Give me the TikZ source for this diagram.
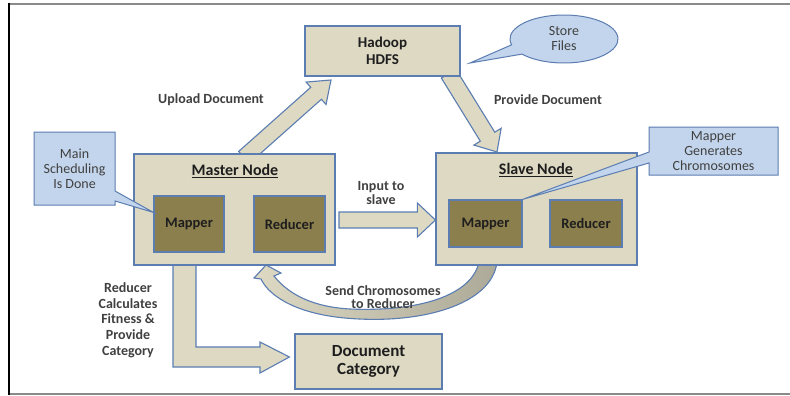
\documentclass[tikz,border=0pt]{standalone}
\usepackage{fontspec}
\setmainfont{Carlito}
\usetikzlibrary{calc}

\definecolor{tanfill}{HTML}{DDD9C3}
\definecolor{edgeblue}{HTML}{5B7DB1}
\definecolor{olivefill}{HTML}{8C7F4E}
\definecolor{notefill}{HTML}{C3D5EC}
\definecolor{ink}{HTML}{1E1E1E}
\definecolor{framegray}{HTML}{8A8A8A}

\pgfdeclarelayer{bg}
\pgfsetlayers{bg,main}

% block arrow from tail #1 to tip #2: shaft half width #3, head half width #4, head length #5
\newcommand\blockarrow[5]{%
  \coordinate (ba-base) at ($(#2)!#5!(#1)$);
  \draw[fat] ($(#1)!#3!90:(#2)$) -- ($(ba-base)!#3!-90:(#1)$) -- ($(ba-base)!#4!-90:(#1)$)
    -- (#2) -- ($(ba-base)!#4!90:(#1)$) -- ($(ba-base)!#3!90:(#1)$) -- ($(#1)!#3!-90:(#2)$) -- cycle;
}

\tikzset{
  box/.style={draw=edgeblue, fill=tanfill, line width=1.2pt, inner sep=0pt},
  unit/.style={draw=edgeblue, fill=olivefill, line width=1.2pt, inner sep=0pt, text=ink,
    font=\fontsize{14.5}{16}\selectfont\bfseries},
  fat/.style={draw=edgeblue, fill=tanfill, line width=1.1pt, line join=miter},
  note/.style={draw=edgeblue, fill=notefill, line width=1pt, line join=miter},
  notetext/.style={align=center, text=ink!85, font=\fontsize{14}{15}\selectfont},
  lbl/.style={align=center, text=ink!85, font=\fontsize{14}{13.5}\selectfont\bfseries},
  title/.style={text=ink, font=\fontsize{16}{18}\selectfont\bfseries},
}

\begin{document}
\begin{tikzpicture}[x=1pt,y=-1pt]
\useasboundingbox (0,0) rectangle (790,396);

% frame
\draw[framegray, line width=1.4pt] (9,4) -- (790,4);
\draw[framegray, line width=1.4pt] (9,394) -- (790,394);
\draw[black, line width=2.6pt] (9,3) -- (9,395);

% main boxes
\node[box, minimum width=155pt, minimum height=50pt, align=center, text=ink,
  font=\fontsize{15}{17}\selectfont\bfseries] (hdfs) at (382.5,51) {Hadoop\\HDFS};
\node[box, minimum width=201pt, minimum height=111pt] (master) at (234.5,209.5) {};
\node[box, minimum width=201pt, minimum height=112pt] (slave) at (536.5,209) {};
\node[box, minimum width=147pt, minimum height=55pt, align=center, text=ink,
  font=\fontsize{17}{18}\selectfont\bfseries] (doc) at (368.5,361.5) {Document\\Category};

\node[title] (mtitle) at (235,171) {\underline{Master Node}};
\node[title] (stitle) at (536,170) {\underline{Slave Node}};

\node[unit, minimum width=70pt, minimum height=56pt] (mmap) at (189,224) {Mapper};
\node[unit, minimum width=71pt, minimum height=56pt] (mred) at (289.5,224) {Reducer};
\node[unit, minimum width=73pt, minimum height=47pt] (smap) at (485.5,223.5) {Mapper};
\node[unit, minimum width=72pt, minimum height=47pt] (sred) at (586,223.5) {Reducer};

% arrows behind the boxes
\begin{pgfonlayer}{bg}
  \coordinate (upT) at ($(master.north)+(9.5,4)$);
  \coordinate (upH) at (331,80);
  \blockarrow{upT}{upH}{8pt}{15pt}{20pt}

  \coordinate (pvT) at ($(hdfs.south east)+(-12,-3)$);
  \coordinate (pvH) at (497,152);
  \blockarrow{pvT}{pvH}{8.5pt}{16pt}{18pt}

  \coordinate (inT) at (339,220);
  \coordinate (inH) at (slave.west |- inT);
  \blockarrow{inT}{inH}{8pt}{17pt}{18pt}

  % reducer result to document category
  \draw[fat] (173,262) -- (196,262) -- (196,347) -- (260,347) -- (260,342)
    -- ($(doc.west)+(-5,-4.5)$) -- (260,373) -- (260,367) -- (173,367) -- cycle;

  % chromosomes sent back to the master reducer
  \draw[draw=edgeblue, line width=1.1pt, left color=tanfill, right color=black!22!tanfill, line join=miter]
    (497,262) .. controls (492,305) and (420,325) .. (345,318)
    .. controls (300,314) and (270,298) .. (261,279)
    -- (254,278) -- (266,265) -- (281,273) -- (274,276)
    .. controls (290,296) and (315,307) .. (350,309)
    .. controls (420,312) and (472,295) .. (479,262) -- cycle;
\end{pgfonlayer}

% arrow labels
\node[lbl] (lupload) at (211,100) {Upload Document};
\node[lbl] (lprovide) at (548,100) {Provide Document};
\node[lbl] (linput) at (381,193) {Input to\\slave};
\node[lbl] (lsend) at (383,297) {Send Chromosomes\\to Reducer};
\node[lbl, font=\fontsize{14}{15.7}\selectfont\bfseries] (lcalc) at (128,320)
  {Reducer\\Calculates\\Fitness \&\\Provide\\Category};

% callouts
\draw[note] (34,132) -- (115,132) -- (115,191) -- ([yshift=-17pt]mmap.north west)
  -- (115,201) -- (115,205) -- (34,205) -- cycle;
\node[notetext] (nmain) at (74.5,169) {Main\\Scheduling\\Is Done};

\draw[note] (649,127) -- (778,127) -- (778,175) -- (649,175) -- (649,163)
  -- (smap.north east) -- (649,152) -- cycle;
\node[notetext] (nmapper) at (713.5,151.5) {Mapper\\Generates\\Chromosomes};

\draw[note] (470,63) -- ($(564,39)+(194:54pt and 24pt)$)
  arc[start angle=194, end angle=-141, x radius=54pt, y radius=24pt] -- cycle;
\node[notetext] (nstore) at (564,39) {Store\\Files};

\end{tikzpicture}
\end{document}
